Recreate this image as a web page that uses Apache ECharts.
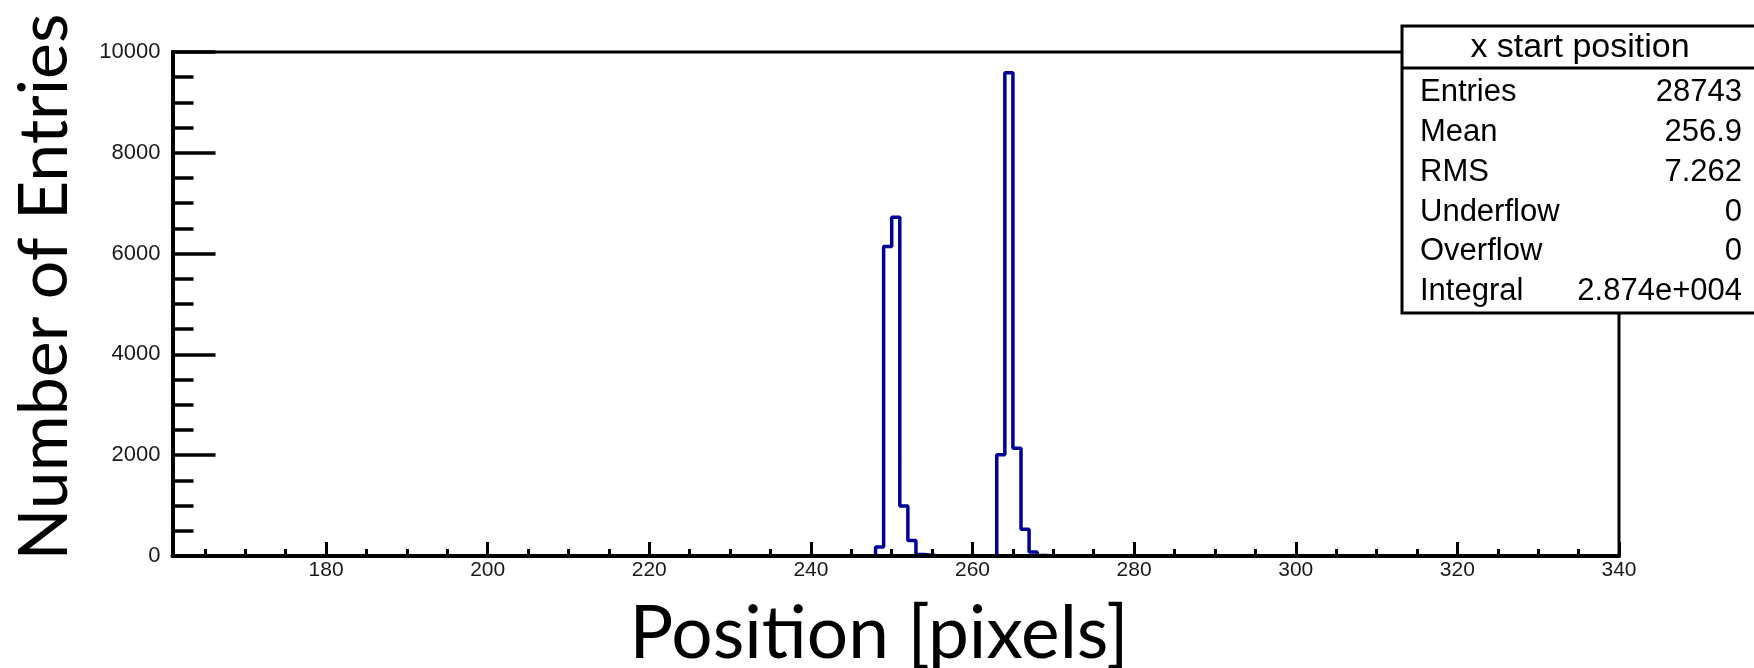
<!DOCTYPE html>
<html>
<head>
<meta charset="utf-8">
<script src="https://cdn.jsdelivr.net/npm/echarts@6/dist/echarts.min.js"></script>
<style>
html,body{margin:0;padding:0;background:#fff;}
#main{width:1754px;height:668px;}
</style>
</head>
<body>
<div id="main"></div>
<script>
// histogram range and filled bins (lower edge -> entries)
var xLow = 161, xHigh = 340;
var binStart = [248, 249, 250, 251, 252, 253, 254, 263, 264, 265, 266, 267, 268];
var binCount = [180, 6140, 6720, 990, 310, 30, 15, 2010, 9590, 2140, 530, 80, 10];
var xLabels = [180, 200, 220, 240, 260, 280, 300, 320, 340];
var xMinor = [165, 170, 175, 185, 190, 195, 205, 210, 215, 225, 230, 235, 245, 250, 255,
	265, 270, 275, 285, 290, 295, 305, 310, 315, 325, 330, 335];
var statNames = ['Entries', 'Mean', 'RMS', 'Underflow', 'Overflow', 'Integral'];
var statValues = ['28743', '256.9', '7.262', '0', '0', '2.874e+004'];

// build step outline from bins
var hist = [];
for (var e = xLow; e < xHigh; e++) {
	var k = binStart.indexOf(e);
	hist.push([e, k >= 0 ? binCount[k] : 0]);
}
hist.push([xHigh, hist[hist.length - 1][1]]);

var tickFont = '"Liberation Sans", Arial, sans-serif';

// stats box
var boxX = 1402, boxY = 26, boxW = 370, boxH = 287, rowH = 39.8;
var stats = [
	{type: 'rect', shape: {x: boxX, y: boxY, width: boxW, height: boxH},
	 style: {fill: '#fff', stroke: '#000', lineWidth: 3}},
	{type: 'line', shape: {x1: boxX, y1: 68, x2: 1754, y2: 68}, style: {stroke: '#000', lineWidth: 3}},
	{type: 'text', x: 1580, y: 48, style: {text: 'x start position', font: '34px "Liberation Sans", Arial',
	 fill: '#000', align: 'center', verticalAlign: 'middle'}}
];
for (var i = 0; i < statNames.length; i++) {
	var yy = 92.7 + i * rowH;
	stats.push({type: 'text', x: 1420, y: yy, style: {text: statNames[i], font: '31px "Liberation Sans", Arial',
		fill: '#000', align: 'left', verticalAlign: 'middle'}});
	stats.push({type: 'text', x: 1742, y: yy, style: {text: statValues[i], font: '31px "Liberation Sans", Arial',
		fill: '#000', align: 'right', verticalAlign: 'middle'}});
}

var myChart = echarts.init(document.getElementById('main'), null, {renderer: 'canvas'});
var option = {
	animation: false,
	backgroundColor: '#fff',
	grid: {left: 172.5, right: 135, top: 52, bottom: 112, show: true,
		borderColor: '#000', borderWidth: 3, backgroundColor: 'transparent'},
	xAxis: [{
		type: 'value', min: xLow, max: xHigh, z: 3,
		axisLine: {show: true, onZero: false, lineStyle: {color: '#000', width: 4}},
		axisTick: {show: true, inside: true, length: 14, customValues: xLabels, lineStyle: {color: '#000', width: 3}},
		axisLabel: {show: true, customValues: xLabels, margin: 4, fontFamily: tickFont, fontSize: 21, color: '#1a1a1a',
			formatter: function(v){ return String(v); }},
		splitLine: {show: false}
	}, {
		type: 'value', min: xLow, max: xHigh, position: 'bottom', z: 3,
		axisLine: {show: false},
		axisTick: {show: true, inside: true, length: 7, customValues: xMinor, lineStyle: {color: '#000', width: 3}},
		axisLabel: {show: false},
		splitLine: {show: false}
	}],
	yAxis: {
		type: 'value', min: 0, max: 10000, interval: 2000, z: 3,
		axisLine: {show: true, lineStyle: {color: '#000', width: 4}},
		axisTick: {show: true, inside: true, length: 43, lineStyle: {color: '#000', width: 3.5}},
		minorTick: {show: true, splitNumber: 4, length: 21, lineStyle: {color: '#000', width: 3.5}},
		axisLabel: {margin: 12, fontFamily: tickFont, fontSize: 22, color: '#1a1a1a',
			formatter: function(v){ return String(v); }},
		splitLine: {show: false}
	},
	series: [{
		type: 'line', step: 'end', data: hist, showSymbol: false, symbol: 'none',
		lineStyle: {color: '#000099', width: 3.5}, z: 2
	}],
	graphic: [
		{type: 'text', x: 45, y: 287, rotation: Math.PI / 2, z: 10,
		 style: {text: 'Number of Entries', font: '68px Lato', fill: '#000', align: 'center', verticalAlign: 'middle'}},
		{type: 'text', x: 879, y: 634, z: 10,
		 style: {text: 'Position [pixels]', font: '73px Lato', fill: '#000', align: 'center', verticalAlign: 'middle'}},
		{type: 'group', z: 20, children: stats}
	]
};
myChart.setOption(option);
</script>
</body>
</html>
